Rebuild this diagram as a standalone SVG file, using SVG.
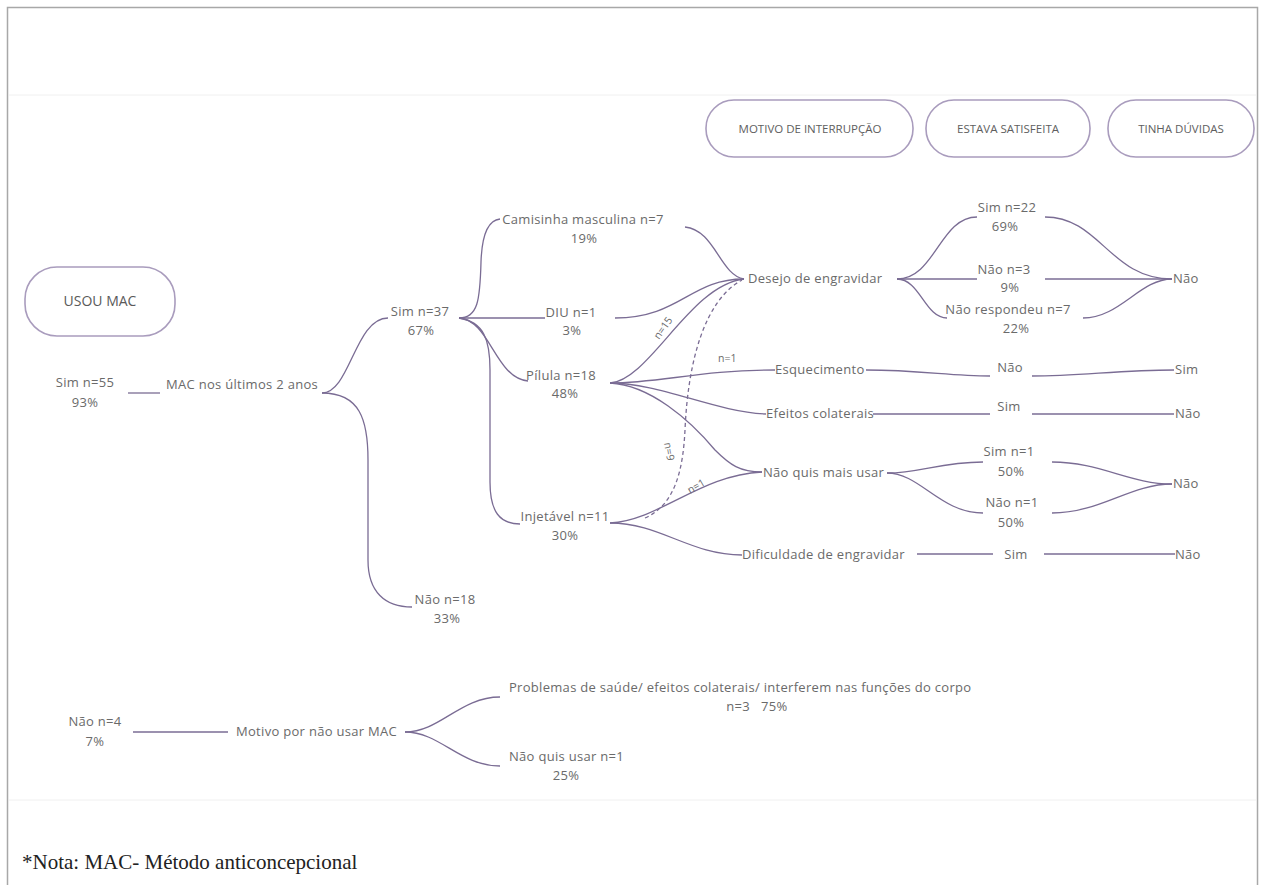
<svg xmlns="http://www.w3.org/2000/svg" width="1264" height="885" viewBox="0 0 1264 885">
<style>
.t{font-family:"Open Sans","Liberation Sans",sans-serif;font-size:13px;letter-spacing:0.3px;fill:#6a6a6a}
.c{text-anchor:middle}
.s{font-size:10.5px;letter-spacing:0}
.h{font-family:"Open Sans","Liberation Sans",sans-serif;font-size:11.5px;fill:#5e5e5e;text-anchor:middle}
.box{fill:#fff;stroke:#a99cbd;stroke-width:1.6}
.ln{fill:none;stroke:#7a6c94;stroke-width:1.3}
.dash{stroke-dasharray:4 3}
</style>
<rect x="0" y="0" width="1264" height="885" fill="#fff"/>
<rect x="7.5" y="7.5" width="1250" height="900" fill="none" stroke="#a8a8a8" stroke-width="1.5"/>
<line x1="9" y1="95" x2="1256" y2="95" stroke="#f0f0f0" stroke-width="1"/>
<line x1="9" y1="800" x2="1256" y2="800" stroke="#f0f0f0" stroke-width="1"/>

<g id="connectors">
<path class="ln" d="M128 393 H160"/>
<path class="ln" d="M322 393 C350 393 355 318 388 318"/>
<path class="ln" d="M322 393 C360 393 368 420 368 460 V560 C368 592 385 607 412 607"/>
<path class="ln" d="M459 318 C478 318 480 300 481 262 C482 232 490 220 500 219"/>
<path class="ln" d="M459 318 H545"/>
<path class="ln" d="M459 318 C490 320 495 378 528 381"/>
<path class="ln" d="M459 318 C484 322 490 340 490 370 V482 C490 512 500 524 520 524"/>
<path class="ln" d="M685 227 C715 230 720 275 744 279"/>
<path class="ln" d="M615 318 C680 318 690 279 744 279"/>
<path class="ln" d="M610 383 C650 380 690 285 744 279"/>
<path class="ln dash" d="M645 518 C675 505 683 470 685 430 C688 360 705 300 742 280"/>
<path class="ln" d="M610 383 C660 383 700 370 775 370"/>
<path class="ln" d="M610 383 C660 383 715 412 766 414"/>
<path class="ln" d="M610 383 C650 385 690 420 715 450 C730 465 740 472 762 472"/>
<path class="ln" d="M610 523 C660 520 700 475 762 472"/>
<path class="ln" d="M610 523 C660 523 690 555 742 555"/>
<path class="ln" d="M897 279 C935 279 940 217 977 217"/>
<path class="ln" d="M897 279 H977"/>
<path class="ln" d="M897 279 C920 279 925 318 947 318"/>
<path class="ln" d="M1045 217 C1100 217 1110 279 1172 279"/>
<path class="ln" d="M1045 279 H1172"/>
<path class="ln" d="M1083 318 C1120 318 1140 279 1172 279"/>
<path class="ln" d="M866 370 C920 370 950 376 990 376"/>
<path class="ln" d="M1032 376 C1080 376 1120 370 1174 370"/>
<path class="ln" d="M873 414 H990"/>
<path class="ln" d="M1032 414 H1174"/>
<path class="ln" d="M887 473 C920 473 940 462 983 462"/>
<path class="ln" d="M887 473 C920 473 940 513 983 513"/>
<path class="ln" d="M1052 462 C1100 462 1130 484 1172 484"/>
<path class="ln" d="M1052 513 C1100 513 1130 484 1172 484"/>
<path class="ln" d="M917 554 H993"/>
<path class="ln" d="M1044 554 H1175"/>
<path class="ln" d="M133 732 H228"/>
<path class="ln" d="M405 732 C440 732 460 697 500 697"/>
<path class="ln" d="M405 732 C440 732 460 766 500 766"/>
<text class="t s" transform="translate(659,340) rotate(-55)">n=15</text>
<text class="t s" x="718" y="362">n=1</text>
<text class="t s" transform="translate(664,443) rotate(80)">n=9</text>
<text class="t s" transform="translate(690,494) rotate(-30)">n=1</text>
</g>

<g id="usou-mac"><rect class="box" x="25" y="267" width="150" height="69" rx="32"/><text class="t c" x="100" y="306" style="font-size:14px;letter-spacing:0;fill:#5a5a5a">USOU MAC</text></g>
<g id="h-motivo"><rect class="box" x="706" y="100" width="207" height="57" rx="28"/><text class="h" x="810" y="133">MOTIVO DE INTERRUPÇÃO</text></g>
<g id="h-satisfeita"><rect class="box" x="926" y="100" width="164" height="57" rx="28"/><text class="h" x="1008" y="133">ESTAVA SATISFEITA</text></g>
<g id="h-duvidas"><rect class="box" x="1108" y="100" width="146" height="57" rx="28"/><text class="h" x="1181" y="133">TINHA DÚVIDAS</text></g>

<g id="sim55"><text class="t c" x="85" y="387">Sim n=55</text><text class="t c" x="85" y="407">93%</text></g>
<g id="mac2anos"><text class="t" x="166" y="389">MAC nos últimos 2 anos</text></g>
<g id="sim37"><text class="t c" x="420" y="316">Sim n=37</text><text class="t c" x="421" y="335">67%</text></g>
<g id="nao18"><text class="t c" x="445" y="604">Não n=18</text><text class="t c" x="447" y="623">33%</text></g>
<g id="camisinha"><text class="t c" x="583" y="224">Camisinha masculina n=7</text><text class="t c" x="584" y="243">19%</text></g>
<g id="diu"><text class="t c" x="571" y="317">DIU n=1</text><text class="t c" x="572" y="335">3%</text></g>
<g id="pilula"><text class="t c" x="561" y="380">Pílula n=18</text><text class="t c" x="565" y="398">48%</text></g>
<g id="injetavel"><text class="t c" x="565" y="521">Injetável n=11</text><text class="t c" x="565" y="540">30%</text></g>
<g id="desejo"><text class="t" x="748" y="283">Desejo de engravidar</text></g>
<g id="esquecimento"><text class="t" x="775" y="374">Esquecimento</text></g>
<g id="efeitos"><text class="t" x="766" y="418">Efeitos colaterais</text></g>
<g id="naoquis"><text class="t" x="763" y="477">Não quis mais usar</text></g>
<g id="dificuldade"><text class="t" x="742" y="559">Dificuldade de engravidar</text></g>
<g id="sim22"><text class="t c" x="1007" y="212">Sim n=22</text><text class="t c" x="1005" y="231">69%</text></g>
<g id="nao3"><text class="t c" x="1004" y="274">Não n=3</text><text class="t c" x="1010" y="292">9%</text></g>
<g id="naoresp"><text class="t c" x="1008" y="314">Não respondeu n=7</text><text class="t c" x="1016" y="333">22%</text></g>
<g id="d-nao"><text class="t" x="1173" y="283">Não</text></g>
<g id="esq-nao"><text class="t c" x="1010" y="372">Não</text></g>
<g id="esq-sim"><text class="t" x="1175" y="374">Sim</text></g>
<g id="ef-sim"><text class="t c" x="1009" y="411">Sim</text></g>
<g id="ef-nao"><text class="t" x="1175" y="418">Não</text></g>
<g id="sim1"><text class="t c" x="1009" y="456">Sim n=1</text><text class="t c" x="1011" y="476">50%</text></g>
<g id="nao1"><text class="t c" x="1012" y="507">Não n=1</text><text class="t c" x="1011" y="527">50%</text></g>
<g id="nq-nao"><text class="t" x="1173" y="488">Não</text></g>
<g id="dif-sim"><text class="t c" x="1016" y="559">Sim</text></g>
<g id="dif-nao"><text class="t" x="1175" y="559">Não</text></g>
<g id="nao4"><text class="t c" x="95" y="726">Não n=4</text><text class="t c" x="95" y="746">7%</text></g>
<g id="motivo"><text class="t" x="236" y="736">Motivo por não usar MAC</text></g>
<g id="problemas"><text class="t" x="509" y="692">Problemas de saúde/ efeitos colaterais/ interferem nas funções do corpo</text><text class="t c" x="757" y="711" xml:space="preserve">n=3   75%</text></g>
<g id="naoquisusar"><text class="t" x="509" y="761">Não quis usar n=1</text><text class="t c" x="566" y="780">25%</text></g>
<text x="22" y="869" style="font-family:'Liberation Serif',serif;font-size:21px;fill:#222">*Nota: MAC- Método anticoncepcional</text>
</svg>
